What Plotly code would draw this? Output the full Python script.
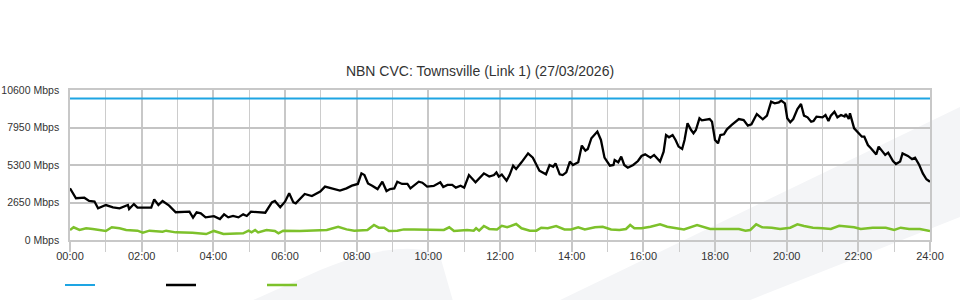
import plotly.graph_objects as go

# ---------------- data ----------------
x_tick_minutes = [0, 120, 240, 360, 480, 600, 720, 840, 960, 1080, 1200, 1320, 1440]
x_tick_labels = ["00:00", "02:00", "04:00", "06:00", "08:00", "10:00", "12:00",
                 "14:00", "16:00", "18:00", "20:00", "22:00", "24:00"]
y_tick_values = [0, 2650, 5300, 7950, 10600]
y_tick_labels = ["0 Mbps", "2650 Mbps", "5300 Mbps", "7950 Mbps", "10600 Mbps"]

capacity_minutes = [0, 1440]
capacity_mbps = [10000, 10000]

black_minutes = [0, 10, 24, 32, 41, 47, 60, 72, 83, 97, 99, 107, 113, 136, 141, 148, 155, 166,
                 177, 200, 206, 212, 219, 227, 241, 251, 258, 265, 273, 282, 290, 296, 303,
                 313, 327, 338, 343, 352, 360, 367, 374, 378, 393, 405, 419, 427, 441, 452,
                 463, 472, 482, 488, 493, 499, 506, 515, 523, 530, 536, 543, 548, 556, 565,
                 570, 584, 590, 598, 609, 620, 625, 632, 640, 646, 654, 660, 668, 674, 679,
                 693, 702, 710, 714, 718, 723, 731, 736, 742, 747, 756, 767, 775, 781, 786,
                 797, 803, 809, 813, 820, 825, 831, 837, 842, 851, 857, 863, 867, 873, 883,
                 889, 895, 904, 910, 912, 918, 923, 928, 934, 943, 951, 957, 963, 972, 978,
                 988, 994, 998, 1003, 1009, 1014, 1019, 1025, 1029, 1034, 1040, 1044, 1048,
                 1054, 1058, 1065, 1071, 1075, 1080, 1085, 1089, 1095, 1100, 1108, 1120,
                 1128, 1135, 1141, 1150, 1160, 1167, 1174, 1180, 1187, 1191, 1197, 1201,
                 1206, 1211, 1218, 1224, 1229, 1235, 1241, 1245, 1250, 1260, 1265, 1270,
                 1274, 1280, 1285, 1291, 1297, 1299, 1304, 1306, 1313, 1321, 1326, 1330,
                 1336, 1341, 1350, 1354, 1361, 1365, 1370, 1378, 1383, 1390, 1394, 1403,
                 1410, 1415, 1422, 1428, 1434, 1440]
black_mbps = [3650, 2950, 2990, 2760, 2720, 2240, 2470, 2310, 2240, 2470, 2190, 2540, 2290, 2290,
              2870, 2470, 2760, 2430, 1960, 2000, 1580, 1960, 1880, 1600, 1680, 1480, 1810,
              1600, 1700, 1600, 1810, 1700, 2000, 1960, 1930, 2660, 2760, 2310, 2710, 3300,
              2660, 2590, 3250, 3110, 3420, 3770, 3600, 3490, 3650, 3840, 3960, 4710, 4590,
              4000, 3840, 3600, 4120, 3460, 3600, 3650, 4120, 3960, 3960, 3650, 4120, 4050,
              3770, 3820, 4080, 3750, 3890, 3890, 3700, 3840, 3700, 4590, 4310, 4080, 4710,
              4480, 4590, 4780, 4480, 4620, 4190, 4590, 5250, 5020, 5490, 6120, 5820, 5300,
              4900, 4640, 5300, 5180, 5420, 4640, 4590, 4780, 5540, 5300, 5490, 6670, 6310,
              6430, 7190, 7660, 7070, 5820, 5250, 5300, 5650, 5490, 5890, 5300, 5110, 5300,
              5580, 5935, 6050, 5820, 6010, 5540, 6240, 7420, 7260, 7420, 7070, 6600, 6430,
              7070, 8250, 7770, 7540, 7770, 8600, 8460, 8530, 8550, 8360, 7070, 6830, 7420,
              7470, 7820, 8130, 8550, 8480, 8080, 8170, 8900, 8530, 8790, 9780, 9660, 9730,
              9850, 9660, 8600, 8320, 8550, 9260, 9610, 8790, 8670, 8360, 8410, 8720, 8670,
              8830, 8410, 8790, 9070, 8670, 8830, 8720, 8900, 8550, 8950, 7890, 7540, 7300,
              7300, 6710, 6480, 6050, 6600, 6240, 6010, 6170, 5580, 5370, 5540, 6120, 5940,
              5720, 5820, 5300, 4710, 4290, 4120]

green_minutes = [0, 6, 16, 27, 38, 49, 60, 70, 83, 94, 113, 122, 133, 155, 161, 177, 205, 228,
                 241, 257, 290, 299, 304, 310, 315, 329, 343, 349, 357, 385, 407, 430, 449,
                 463, 476, 498, 509, 517, 526, 534, 548, 559, 576, 593, 609, 626, 635, 643,
                 665, 676, 680, 685, 693, 702, 715, 723, 732, 747, 756, 770, 781, 789, 800,
                 814, 828, 839, 851, 862, 879, 892, 906, 920, 931, 938, 945, 957, 972, 988,
                 1000, 1016, 1028, 1050, 1060, 1072, 1095, 1120, 1131, 1139, 1149, 1159,
                 1175, 1189, 1206, 1218, 1229, 1244, 1260, 1274, 1288, 1301, 1313, 1324,
                 1344, 1366, 1380, 1391, 1405, 1423, 1440]
green_mbps = [710, 900, 710, 830, 780, 710, 640, 900, 830, 710, 660, 520, 660, 590, 660, 540,
              520, 420, 640, 420, 470, 660, 540, 710, 540, 710, 640, 470, 660, 640, 660, 710,
              940, 750, 660, 710, 1060, 870, 870, 640, 660, 750, 750, 750, 710, 710, 900, 640,
              710, 660, 830, 660, 990, 780, 750, 1000, 900, 1130, 830, 660, 660, 870, 830,
              990, 750, 750, 900, 750, 900, 940, 750, 710, 780, 1060, 830, 830, 940, 1110,
              940, 830, 750, 1060, 940, 780, 780, 780, 660, 710, 1110, 900, 870, 780, 870,
              1110, 990, 870, 830, 780, 1010, 940, 900, 780, 870, 870, 710, 870, 780, 780, 640]

BLUE = "#1ea5e3"
BLACK = "#000000"
GREEN = "#7dc12b"
FONT = "Liberation Sans, Arial, sans-serif"

fig = go.Figure()
fig.add_trace(go.Scatter(x=capacity_minutes, y=capacity_mbps, mode="lines", name="",
                         line=dict(color=BLUE, width=2.2), hoverinfo="skip"))
fig.add_trace(go.Scatter(x=black_minutes, y=black_mbps, mode="lines", name="",
                         line=dict(color=BLACK, width=2.3), hoverinfo="skip"))
fig.add_trace(go.Scatter(x=green_minutes, y=green_mbps, mode="lines", name="",
                         line=dict(color=GREEN, width=2.5), hoverinfo="skip"))

# faint decorative background watermark (paper coordinates)
band = "#f4f5f7"
fig.add_shape(type="path", xref="paper", yref="paper", layer="below", line_width=0,
              fillcolor=band,
              path="M 0.570,-0.4 L 1.035,0.887 L 1.035,0.153 L 0.791,-0.4 Z")
fig.add_shape(type="path", xref="paper", yref="paper", layer="below", line_width=0,
              fillcolor=band,
              path="M 0.213,-0.4 L 0.291,-0.2 Q 0.385,0.02 0.430,-0.1 L 0.445,-0.4 Z")

fig.update_layout(
    width=960, height=300,
    margin=dict(l=70, r=30, t=90, b=60, autoexpand=False),
    paper_bgcolor="white",
    plot_bgcolor="rgba(0,0,0,0)",
    font=dict(family=FONT, size=11, color="#333333"),
    title=dict(text="NBN CVC: Townsville (Link 1) (27/03/2026)",
               x=0.5, xanchor="center", xref="container",
               y=1 - 71 / 300, yref="container", yanchor="middle",
               font=dict(family=FONT, size=14, color="#333333")),
    showlegend=True,
    legend=dict(orientation="h", xref="container", yref="container",
                x=60 / 960, xanchor="left", y=1 - 285 / 300, yanchor="middle",
                entrywidth=56, entrywidthmode="pixels", font=dict(size=11),
                bgcolor="rgba(0,0,0,0)"),
)
fig.update_xaxes(
    range=[0, 1440], tickmode="array", tickvals=x_tick_minutes, ticktext=x_tick_labels,
    showgrid=True, gridcolor="#c8c8c8", gridwidth=1.5,
    ticks="outside", ticklen=10, tickcolor="#c8c8c8", tickwidth=1.5,
    minor=dict(dtick=60, tick0=0, showgrid=True, gridcolor="#cccccc", gridwidth=1.2,
               ticks="outside", ticklen=10, tickcolor="#cccccc", tickwidth=1.2),
    showline=True, linecolor="#c8c8c8", linewidth=1.5, mirror=True,
    zeroline=False, ticklabelstandoff=-5, fixedrange=True, automargin=False,
)
fig.update_yaxes(
    range=[0, 10600], tickmode="array", tickvals=y_tick_values, ticktext=y_tick_labels,
    tickfont=dict(size=10.5),
    showgrid=True, gridcolor="#c4c4c4", gridwidth=2,
    showline=True, linecolor="#c8c8c8", linewidth=1.5, mirror=True,
    zeroline=False, ticks="", ticklabelstandoff=7, fixedrange=True, automargin=False,
)

fig.write_html("out.html")
